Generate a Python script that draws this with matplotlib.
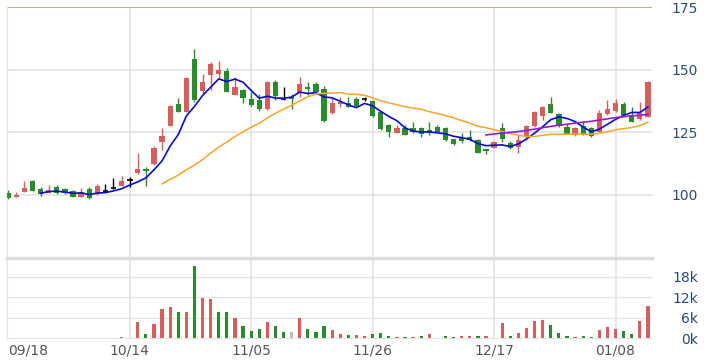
import numpy as np
import pandas as pd
import matplotlib
matplotlib.use('Agg')
import matplotlib.pyplot as plt

# daily candles (open, high, low, close) and volume in thousands
opens = [100.9, 99.2, 101.3, 105.6, 102.5, 100.9, 103.3, 102.3, 101.7, 99.3,
         102.5, 100.3, 101.7, 102.7, 103.7, 106.0, 108.7, 110.3, 112.3, 121.3,
         127.7, 136.3, 133.3, 154.3, 141.7, 148.0, 148.4, 149.6, 140.0, 142.0,
         138.3, 138.0, 134.4, 145.3, 138.3, 139.3, 140.9, 143.1, 144.3, 142.3,
         132.9, 136.4, 136.7, 138.3, 138.3, 137.7, 133.3, 128.0, 124.9, 126.9,
         126.7, 126.7, 126.0, 127.1, 126.7, 122.3, 122.7, 123.3, 122.0, 118.4,
         118.9, 126.7, 120.9, 119.3, 123.3, 127.6, 131.7, 136.3, 132.3, 127.1,
         124.0, 127.6, 126.7, 125.3, 132.4, 133.7, 136.3, 132.0, 130.3, 131.3]
highs = [102.0, 101.0, 105.6, 106.0, 103.0, 104.0, 103.8, 102.6, 102.0, 102.7,
         103.0, 104.4, 104.3, 106.7, 107.6, 107.1, 116.7, 111.0, 119.6, 126.7,
         136.0, 138.7, 147.0, 158.3, 148.4, 153.3, 153.6, 150.7, 147.3, 142.5,
         141.0, 140.3, 145.5, 146.0, 143.1, 140.3, 147.1, 145.1, 145.3, 143.6,
         138.7, 139.3, 139.3, 139.3, 139.3, 138.0, 133.5, 128.3, 128.0, 128.0,
         129.3, 127.3, 129.3, 128.0, 127.0, 122.5, 124.9, 126.0, 122.5, 118.5,
         121.6, 128.9, 121.6, 124.0, 128.0, 133.5, 135.5, 139.1, 132.9, 128.4,
         127.0, 129.7, 127.3, 134.0, 138.0, 138.3, 137.3, 135.1, 137.3, 145.5]
lows = [98.5, 99.0, 101.0, 101.5, 99.6, 100.6, 100.5, 100.5, 99.0, 99.0,
        98.5, 100.0, 101.5, 102.3, 103.5, 103.1, 108.5, 103.7, 112.0, 118.0,
        127.5, 133.0, 133.0, 137.0, 140.4, 142.0, 146.7, 141.0, 139.8, 136.7,
        135.5, 133.5, 134.0, 138.0, 138.0, 134.4, 139.3, 140.0, 141.0, 129.3,
        132.5, 135.1, 135.0, 135.0, 137.7, 131.3, 126.0, 123.3, 124.7, 123.8,
        124.9, 123.3, 124.0, 125.0, 121.7, 120.0, 120.9, 121.5, 116.7, 116.4,
        118.7, 121.3, 118.5, 116.7, 122.0, 127.0, 130.0, 132.7, 127.0, 124.2,
        123.6, 123.8, 123.1, 125.0, 132.0, 133.3, 131.7, 129.0, 130.0, 131.0]
closes = [98.7, 100.0, 102.7, 101.7, 100.4, 102.0, 100.9, 100.7, 99.3, 101.3,
          98.7, 103.7, 101.7, 102.7, 105.6, 106.0, 110.3, 109.5, 118.9, 123.6,
          135.6, 133.3, 146.7, 138.0, 145.3, 152.3, 149.9, 141.3, 143.1, 138.9,
          135.9, 134.3, 145.2, 139.7, 138.3, 138.3, 144.3, 142.4, 141.3, 129.7,
          136.7, 137.3, 135.3, 135.6, 138.3, 131.7, 126.3, 125.3, 126.9, 124.0,
          125.3, 124.4, 125.3, 125.3, 122.0, 120.4, 121.7, 121.9, 116.9, 117.7,
          121.3, 122.3, 118.7, 122.0, 127.6, 133.1, 135.1, 132.9, 127.6, 124.4,
          126.9, 124.0, 123.6, 132.7, 134.3, 136.7, 132.0, 129.3, 132.7, 145.3]
volumes = [0, 0, 0.2, 0, 0, 0, 0, 0, 0, 0,
           0, 0.2, 0.1, 0.2, 0.3, 0.2, 4.7, 1.3, 4.3, 8.5,
           9.2, 7.7, 7.7, 21.3, 11.8, 11.5, 7.7, 7.7, 5.8, 3.5,
           2.1, 2.7, 4.7, 3.5, 1.7, 1.7, 5.8, 2.7, 1.7, 3.5,
           2.5, 1.3, 0.9, 0.9, 0.6, 1.2, 1.6, 0.6, 0.3, 0.3,
           0.5, 0.6, 1.2, 0.2, 0.6, 0.5, 0.6, 0.6, 0.6, 0.6,
           0.2, 4.6, 0.8, 1.6, 3.0, 5.0, 5.4, 3.9, 1.6, 0.8,
           0.3, 0.6, 0.3, 2.4, 3.4, 2.8, 2.0, 1.2, 5.0, 9.4]
tick_pos = [0, 15, 30, 45, 60, 75]
tick_labels = ['09/18', '10/14', '11/05', '11/26', '12/17', '01/08']

df = pd.DataFrame({'o': opens, 'h': highs, 'l': lows, 'c': closes, 'v': volumes})
x = np.arange(len(df))

RED = '#d45f5f'
GREEN = '#2b8a2b'
GRID = '#e3e3e3'

cols = np.where(df.c > df.o, RED, np.where(df.c < df.o, GREEN, 'black'))
prev = df.c.shift(1).fillna(df.c)
vcols = np.where(df.c > prev, RED, np.where(df.c < prev, GREEN, '#bbbbbb'))

fig = plt.figure(figsize=(7.08, 3.61), dpi=100)
ax = fig.add_axes([7 / 708, 1 - 257.7 / 361, 645 / 708, 250.7 / 361])
axv = fig.add_axes([7 / 708, 1 - 338.3 / 361, 645 / 708, 80.6 / 361], sharex=ax)

# gridlines
for p in tick_pos[1:]:
    ax.axvline(p, color=GRID, lw=1.2, zorder=0)
    axv.axvline(p, color=GRID, lw=1.2, zorder=0)
for yv in [100, 125, 150]:
    ax.axhline(yv, color=GRID, lw=1.2, zorder=0)
ax.axhline(175, color='#bfa57a', lw=1.3, zorder=0)
for yv in [6, 12, 18]:
    axv.axhline(yv, color=GRID, lw=1.0, zorder=0)

# candles
ax.vlines(x, df.l, df.h, colors=cols, lw=1, zorder=2)
body = (df.c - df.o).abs()
ax.bar(x, body, bottom=np.minimum(df.o, df.c), width=0.65, color=cols, zorder=3)
doji = body == 0
ax.hlines(df.o[doji], x[doji] - 0.35, x[doji] + 0.35, colors='black', lw=1.2, zorder=3)

# moving averages 5 / 20 / 60
ax.plot(x, df.c.rolling(5).mean(), color='#0a0ad0', lw=1.2, zorder=4)
ax.plot(x, df.c.rolling(20).mean(), color='#f4a52c', lw=1.1, zorder=4)
ax.plot(x, df.c.rolling(60).mean(), color='#9a1ad0', lw=1.2, zorder=4)

# volume
axv.bar(x, df.v, width=0.4, color=vcols, zorder=2)

ax.set_xlim(-0.15, 79.5)
ax.set_ylim(74.9, 175.2)
axv.set_ylim(0, 23.6)

for a in (ax, axv):
    for s in ['top', 'right', 'bottom']:
        a.spines[s].set_visible(False)
    a.spines['left'].set_color(GRID)
    a.yaxis.tick_right()
    a.tick_params(axis='y', length=0, pad=33, labelcolor='#2a4a7c', labelsize=10)
    a.tick_params(axis='x', length=0)

axv.spines['top'].set_visible(True)
axv.spines['top'].set_color('#dcdcdc')
axv.spines['top'].set_linewidth(2.5)
axv.spines['bottom'].set_visible(True)
axv.spines['bottom'].set_color(GRID)

ax.set_yticks([100, 125, 150, 175])
axv.set_yticks([0, 6, 12, 18], ['0k', '6k', '12k', '18k'])
for a in (ax, axv):
    for lab in a.get_yticklabels():
        lab.set_horizontalalignment('right')

ax.tick_params(axis='x', labelbottom=False)
axv.set_xticks(tick_pos, tick_labels)
axv.tick_params(axis='x', labelcolor='#555555', labelsize=10, pad=4)
axv.get_xticklabels()[0].set_horizontalalignment('left')
axv.get_xticklabels()[0].set_x(-0.15)

fig.savefig('out.png', dpi=100)
